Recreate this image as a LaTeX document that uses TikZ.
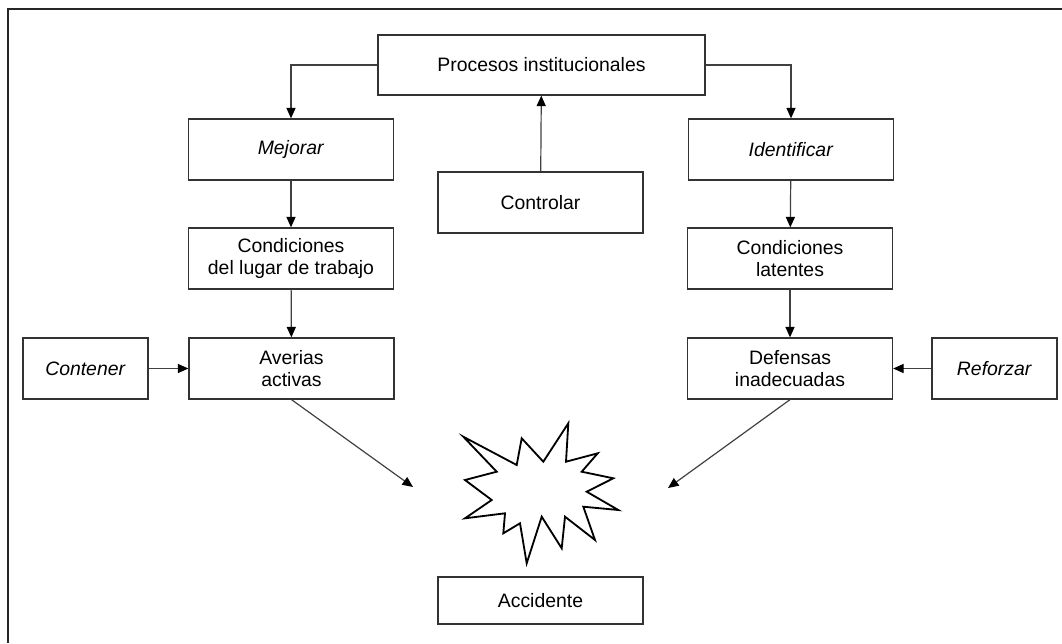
\documentclass[tikz,border=0pt]{standalone}
\usepackage{fontspec}
\setmainfont{Liberation Sans}
\usetikzlibrary{arrows.meta}

\begin{document}
\begin{tikzpicture}[x=0.025cm,y=-0.025cm]
\useasboundingbox (0,0) rectangle (1062,643);
% frame
\draw [line width=1.2pt,black!85] (8,643) |- (1062,9);

\begin{scope}[every node/.style={draw=black!80,line width=0.9pt,inner sep=0pt,
                                 minimum width=5.125cm,minimum height=1.525cm,
                                 align=center,font=\fontsize{13.8}{15.4}\selectfont}]
    \node (proc)   at (541.5,65)  [minimum width=8.175cm,minimum height=1.5cm] {Procesos institucionales};
    \node (mejor)  at (291,149.5) {\textit{Mejorar}};
    \node (lugar)  at (291,258.5) {Condiciones\\del lugar de trabajo};
    \node (aver)   at (291.5,368.5) {Averias\\activas};
    \node (cont)   at (85.5,368.5) [minimum width=3.125cm] {\textit{Contener}};
    \node (ctrl)   at (540.5,202.5) {Controlar};
    \node (ident)  at (791,149.5) {\textit{Identificar}};
    \node (latent) at (790,258.5) {Condiciones\\latentes};
    \node (defen)  at (790,368.5) {Defensas\\inadecuadas};
    \node (refor)  at (994.5,368.5) [minimum width=3.125cm] {\textit{Reforzar}};
    \node (accid)  at (540.5,600.5) [minimum height=1.175cm] {Accidente};
\end{scope}

% accident star
\draw [line width=1.3pt,line join=miter]
    (568.3,423.3) -- (566,461.7) -- (597.7,453.3) -- (581.7,471.7) -- (613.3,478.3)
 -- (586.7,491.7) -- (618.3,510) -- (583.3,506.7) -- (595,540) -- (565,516.7)
 -- (561.7,548.3) -- (541.7,516.7) -- (526.7,563.3) -- (520,523.3) -- (503.3,533.3)
 -- (505,513.3) -- (465,518.3) -- (491.7,500) -- (465,480) -- (496.7,471.7)
 -- (463.3,436.7) -- (516.7,465) -- (521.7,438.3) -- (543.3,461.7) -- cycle;
\coordinate (hitL) at (413,487);
\coordinate (hitR) at (668,488);

\begin{scope}[>={Triangle[length=7.5pt,width=6.5pt,black]},
              every edge/.style={draw=black!75,line width=0.85pt}]
    \draw [->,black!75,line width=0.85pt] (proc.west) -| (mejor.north);
    \draw [->,black!75,line width=0.85pt] (proc.east) -| (ident.north);
    \path [->] (ctrl) edge (proc);
    \path [->] (mejor) edge (lugar);
    \path [->] (lugar) edge (aver);
    \path [->] (cont) edge (aver);
    \path [->] (ident) edge (latent);
    \path [->] (latent) edge (defen);
    \path [->] (refor) edge (defen);
    \path [->] (aver.south) edge (hitL);
    \path [->] (defen.south) edge (hitR);
\end{scope}
\end{tikzpicture}
\end{document}
